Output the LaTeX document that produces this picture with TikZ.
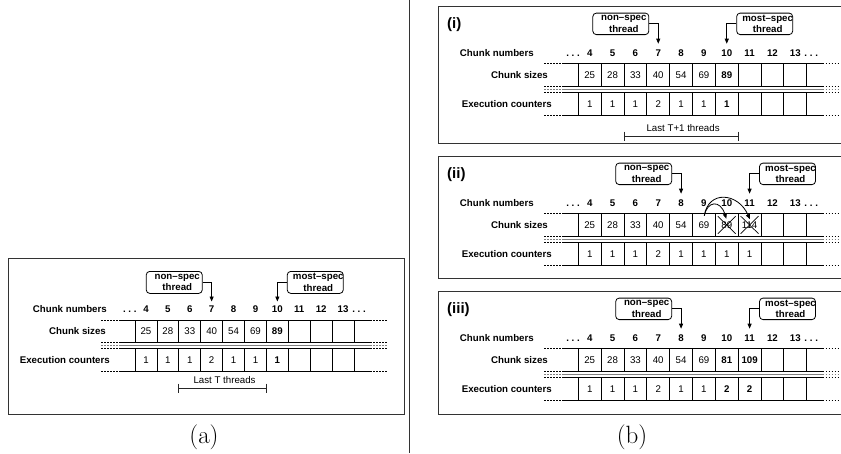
\documentclass[tikz,border=0pt]{standalone}
\usepackage{fontspec}
\newfontfamily\hv[Ligatures=TeX]{Liberation Sans}
\usetikzlibrary{arrows.meta}

\tikzset{
  txt/.style={inner sep=0pt, text height=7pt, text depth=0pt},
  lbl/.style={txt, font=\hv\bfseries\fontsize{9.7}{11}\selectfont},
  cell/.style={txt, font=\hv#1\fontsize{9.7}{11}\selectfont},
  cellline/.style={line width=0.8pt},
  dotline/.style={line width=0.8pt, dash pattern=on 1.5pt off 1.5pt},
  framebox/.style={line width=1pt, draw=black!80},
  threadbox/.style={draw, line width=0.8pt, rounded corners=3.5pt, minimum width=56pt, inner sep=0pt},
  boxtext/.style={inner sep=0pt, align=center, font=\hv\bfseries\fontsize{9.7}{11.6}\selectfont},
  pointer/.style={line width=0.8pt, -{Triangle[length=5pt,width=4pt]}},
  bracket/.style={line width=0.8pt, draw=black!85},
  crossline/.style={line width=0.7pt},
  panellbl/.style={inner sep=0pt, anchor=west, font=\hv\bfseries\fontsize{15}{18}\selectfont},
  caption/.style={inner sep=0pt, font=\fontsize{25}{30}\selectfont},
}

% Grid of chunk numbers, chunk sizes and execution counters; #1 = name prefix
\newcommand\chunkgrid[1]{%
  \foreach \yy/\cc in {11/black,33.5/black,36.5/black!50,39.5/black,62.5/black}{%
    \draw[cellline,draw=\cc] (-16,\yy) -- ({10*\dx+16},\yy);
    \draw[dotline,draw=\cc] (-34,\yy) -- (-16,\yy);
    \draw[dotline,draw=\cc] ({10*\dx+16},\yy) -- ({10*\dx+34},\yy);
  }%
  \foreach \kk in {0,...,10}{%
    \draw[cellline] ({\kk*\dx},11) -- ({\kk*\dx},33.5);
    \draw[cellline] ({\kk*\dx},39.5) -- ({\kk*\dx},62.5);
  }%
  \foreach \n in {4,...,13}{%
    \node[lbl] (#1n\n) at ({(\n-3.5)*\dx},0) {\n};
    \coordinate (#1t\n) at ({(\n-3.5)*\dx},\tipy);
  }%
  \node[lbl,anchor=east] (#1dl) at (1.7,0) {.\ .\ .};
  \node[lbl,anchor=west] (#1dr) at ({9.5*\dx+9},0) {.\ .\ .};
  \node[lbl,anchor=east] (#1cn) at (\xcn,0) {Chunk numbers};
  \node[lbl,anchor=east] (#1cs) at (\xcs,22.25) {Chunk sizes};
  \node[lbl,anchor=east] (#1ec) at (\xec,51) {Execution counters};
}

% Cell contents; #1 = prefix, #2 = row tag, #3 = row centre, #4 = column/text/weight list
\newcommand\cellrow[4]{%
  \foreach \n/\vtext/\vw in {#4}{%
    \node[cell=\vw] (#1#2\n) at ({(\n-3.5)*\dx},#3) {\vtext};
  }}

% Thread boxes with their pointers; #1 = prefix, #2 = non-spec column, #3 = most-spec column
\newcommand\threadmarks[3]{%
  \node[threadbox, minimum height=\boxh, anchor=north east] (#1ns)
    at ({(#2-3.5)*\dx-9},\boxtop) {};
  \node[boxtext] (#1nst) at ([xshift=3pt]#1ns.center) {non--spec\\thread};
  \node[threadbox, minimum height=\boxh, anchor=north west] (#1ms)
    at ({(#3-3.5)*\dx+9.5},\boxtop) {};
  \node[boxtext] (#1mst) at ([xshift=3pt]#1ms.center) {most--spec\\thread};
  \draw[pointer] (#1ns.east) -| (#1t#2);
  \draw[pointer] (#1ms.west) -| (#1t#3);
}

% Range bracket; #1 = prefix, #2/#3 = first/last column edge, #4 = y, #5 = text
\newcommand\rangebar[5]{%
  \coordinate (#1bl) at ({#2*\dx},#4);
  \coordinate (#1br) at ({#3*\dx},#4);
  \draw[bracket] (#1bl) -- (#1br);
  \draw[bracket] ([yshift=4.5pt]#1bl) -- ([yshift=-4.5pt]#1bl);
  \draw[bracket] ([yshift=4.5pt]#1br) -- ([yshift=-4.5pt]#1br);
  \node[cell=\mdseries] (#1bt) at ({(#2+#3)*\dx/2+2},{#4-8}) {#5};
}

\begin{document}
\begin{tikzpicture}[x=1pt, y=-1pt]
\useasboundingbox (0,0) rectangle (841,453);
\clip (0,0) rectangle (841,453);

% separator between the two sub-figures
\coordinate (sepTop) at (409,0);
\coordinate (sepBot) at (409,453);
\draw[framebox] (sepTop) -- (sepBot);

% ---------------- (a) ----------------
\begin{scope}[shift={(135,309)}]
  \def\dx{21.9}\def\xcn{-28}\def\xcs{-29}\def\xec{-25}
  \def\tipy{-7.5}\def\boxtop{-38}\def\boxh{22pt}
  \draw[framebox] (-127,-51) rectangle (269,105);
  \chunkgrid{a}
  \cellrow{a}{s}{22.25}{4/25/\mdseries,5/28/\mdseries,6/33/\mdseries,7/40/\mdseries,8/54/\mdseries,9/69/\mdseries,10/89/\bfseries}
  \cellrow{a}{c}{51}{4/1/\mdseries,5/1/\mdseries,6/1/\mdseries,7/2/\mdseries,8/1/\mdseries,9/1/\mdseries,10/1/\bfseries}
  \threadmarks{a}{7}{10}
  \rangebar{a}{2}{6}{79}{Last T threads}
\end{scope}
\node[caption] (capa) at (204,437) {(a)};

% ---------------- (b)(i) ----------------
\begin{scope}[shift={(578.3,52.7)}]
  \def\dx{22.84}\def\xcn{-44.3}\def\xcs{-30.3}\def\xec{-26.3}
  \def\tipy{-9}\def\boxtop{-40}\def\boxh{21.5pt}
  \draw[framebox] (263,-46.7) -| (-140.3,90.3) -- (263,90.3);
  \node[panellbl] (plbl1) at (-131.3,-27.7) {(i)};
  \chunkgrid{i}
  \cellrow{i}{s}{22.25}{4/25/\mdseries,5/28/\mdseries,6/33/\mdseries,7/40/\mdseries,8/54/\mdseries,9/69/\mdseries,10/89/\bfseries}
  \cellrow{i}{c}{51}{4/1/\mdseries,5/1/\mdseries,6/1/\mdseries,7/2/\mdseries,8/1/\mdseries,9/1/\mdseries,10/1/\bfseries}
  \threadmarks{i}{7}{10}
  \rangebar{i}{2}{7}{83.3}{Last T+1 threads}
\end{scope}

% ---------------- (b)(ii) ----------------
\begin{scope}[shift={(578.3,202.7)}]
  \def\dx{22.84}\def\xcn{-44.3}\def\xcs{-30.3}\def\xec{-26.3}
  \def\tipy{-9}\def\boxtop{-40}\def\boxh{21.5pt}
  \draw[framebox] (263,-46.7) -| (-140.3,76) -- (263,76);
  \node[panellbl] (plbl2) at (-131.3,-27.7) {(ii)};
  \chunkgrid{ii}
  \cellrow{ii}{s}{22.25}{4/25/\mdseries,5/28/\mdseries,6/33/\mdseries,7/40/\mdseries,8/54/\mdseries,9/69/\mdseries,10/89/\mdseries,11/114/\mdseries}
  \cellrow{ii}{c}{51}{4/1/\mdseries,5/1/\mdseries,6/1/\mdseries,7/2/\mdseries,8/1/\mdseries,9/1/\mdseries,10/1/\mdseries,11/1/\mdseries}
  \threadmarks{ii}{8}{11}
  % struck-out chunk sizes
  \foreach \kk in {6,7}{%
    \draw[crossline] ({\kk*\dx+2.5},13.5) -- ({(\kk+1)*\dx-2.5},31);
    \draw[crossline] ({\kk*\dx+2.5},31) -- ({(\kk+1)*\dx-2.5},13.5);
  }
  % recomputation arcs from chunk 9
  \coordinate (iiarc) at (126,13);
  \coordinate (iiend10) at (148,16);
  \coordinate (iiend11) at (171.5,16.5);
  \draw[pointer] (iiarc) .. controls (129,-2) and (142,-3) .. (iiend10);
  \draw[pointer] (iiarc) .. controls (130,-13) and (160,-10) .. (iiend11);
\end{scope}

% ---------------- (b)(iii) ----------------
\begin{scope}[shift={(578.3,337.7)}]
  \def\dx{22.84}\def\xcn{-44.3}\def\xcs{-30.3}\def\xec{-26.3}
  \def\tipy{-9}\def\boxtop{-40}\def\boxh{21.5pt}
  \draw[framebox] (263,-46.7) -| (-140.3,77) -- (263,77);
  \node[panellbl] (plbl3) at (-131.3,-27.7) {(iii)};
  \chunkgrid{iii}
  \cellrow{iii}{s}{22.25}{4/25/\mdseries,5/28/\mdseries,6/33/\mdseries,7/40/\mdseries,8/54/\mdseries,9/69/\mdseries,10/81/\bfseries,11/109/\bfseries}
  \cellrow{iii}{c}{51}{4/1/\mdseries,5/1/\mdseries,6/1/\mdseries,7/2/\mdseries,8/1/\mdseries,9/1/\mdseries,10/2/\bfseries,11/2/\bfseries}
  \threadmarks{iii}{8}{11}
\end{scope}
\node[caption] (capb) at (632,437) {(b)};
\end{tikzpicture}
\end{document}
